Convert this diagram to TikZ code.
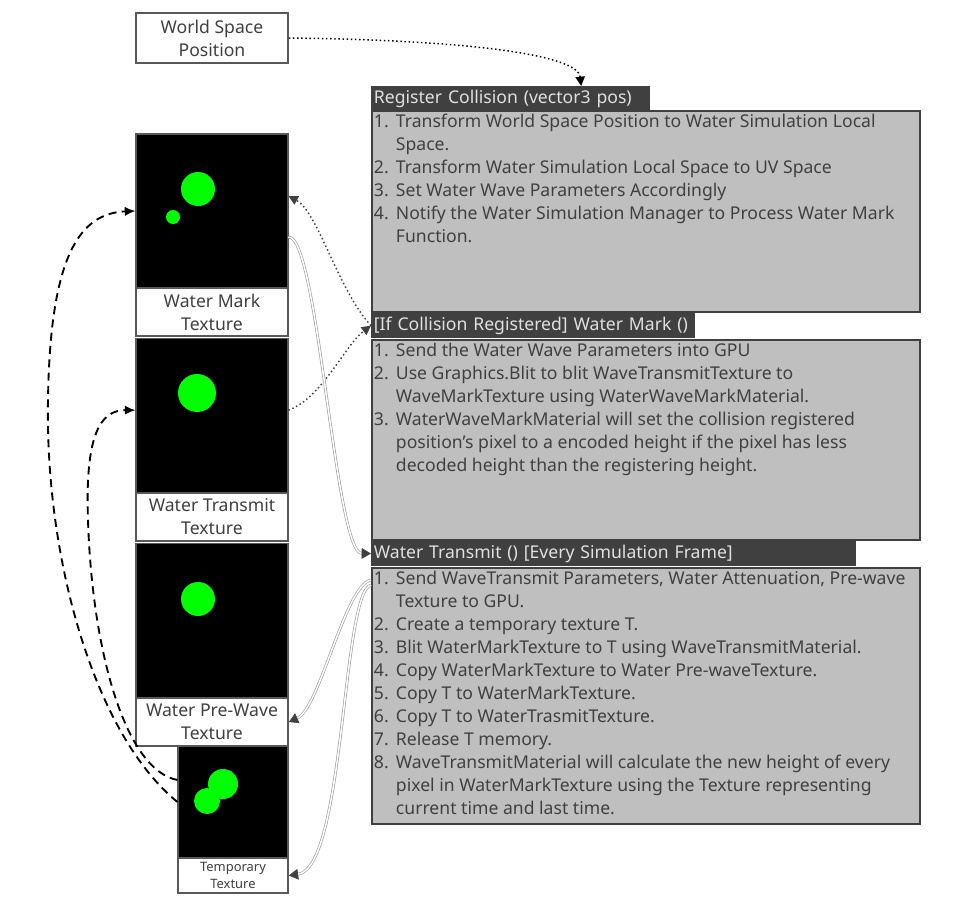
\documentclass[tikz,border=0pt]{standalone}
\usepackage{fontspec}
\setmainfont{Noto Sans}
\usetikzlibrary{arrows.meta}

\definecolor{headgray}{HTML}{404040}
\definecolor{bodygray}{HTML}{BFBFBF}
\definecolor{framegray}{HTML}{595959}
\definecolor{textgray}{HTML}{404040}
\definecolor{headtext}{HTML}{E0E0E0}
\definecolor{markgreen}{HTML}{00FF00}
\definecolor{linkgray}{HTML}{A0A0A0}

\newcommand{\litem}[2]{\makebox[16.5pt][l]{#1}#2}
\newcommand{\mainfontsize}{\fontsize{13.2}{17.25}\selectfont}

\tikzset{
    labelbox/.style={draw=framegray, line width=1.2pt, fill=white, text=textgray,
        minimum width=114pt, minimum height=36pt, align=center, inner sep=0pt,
        font=\mainfontsize},
    texbox/.style={draw=framegray, line width=0.8pt, fill=black,
        minimum width=114pt, minimum height=115.5pt, inner sep=0pt},
    headbox/.style={fill=headgray, text=headtext, anchor=north west, align=left,
        minimum height=18.5pt, inner sep=2pt, font=\mainfontsize},
    bodybox/.style={draw=headgray, line width=1.5pt, fill=bodygray, anchor=north west,
        minimum width=411pt, inner sep=0pt},
    listtext/.style={anchor=north west, align=left, text=textgray, inner sep=2pt,
        font=\mainfontsize},
    markdot/.style={fill=markgreen},
    posflow/.style={dotted, line width=1.1pt, -{Triangle[length=7pt,width=7pt]}},
    markflow/.style={dotted, line width=1.1pt, draw=headgray,
        -{Triangle[length=7pt,width=7pt,color=headgray]}},
    copyflow/.style={draw=linkgray, double=white, double distance=1.1pt, line width=0.5pt,
        -{Triangle[length=7pt,width=8pt,color=headgray,fill=headgray]}},
    swapflow/.style={dashed, dash pattern=on 6pt off 4pt, line width=1.4pt,
        -{Latex[length=8pt,width=7pt]}},
}

\begin{document}
\begin{tikzpicture}[x=0.75pt, y=-0.75pt]
    \useasboundingbox (0,0) rectangle (957,904);

    % textures on the left
    \node[labelbox, minimum height=37.5pt] (wsp) at (212,38) {World Space\\Position};

    \node[texbox] (wmtex) at (212,211) {};
    \node[labelbox] (wmlabel) at (212,312) {Water Mark\\Texture};
    \node[texbox] (wttex) at (212,415.5) {};
    \node[labelbox] (wtlabel) at (212,517) {Water Transmit\\Texture};
    \node[texbox] (pwtex) at (212,620.5) {};
    \node[labelbox] (pwlabel) at (212,722) {Water Pre-Wave\\Texture};
    \node[texbox, minimum width=82.5pt, minimum height=84pt] (tmptex) at (233,802) {};
    \node[labelbox, minimum width=82.5pt, minimum height=26.25pt,
        font=\fontsize{9.7}{12.5}\selectfont] (tmplabel) at (233,875.5) {Temporary\\Texture};

    \fill[markgreen] (198,189) circle[radius=17];
    \fill[markgreen] (173,217) circle[radius=7];
    \fill[markgreen] (197,393) circle[radius=19];
    \fill[markgreen] (198,599) circle[radius=17];
    \fill[markgreen] (223,784) circle[radius=15];
    \fill[markgreen] (207,801) circle[radius=13];

    % function blocks on the right
    \node[bodybox, minimum height=150.75pt] (rcbody) at (371,110) {};
    \node[headbox, text width=205pt] (rchead) at (371,86) {Register Collision (vector3 pos)};
    \node[listtext] (rclist) at (371,111) {%
        \litem{1.}{Transform World Space Position to Water Simulation Local}\\
        \litem{}{Space.}\\
        \litem{2.}{Transform Water Simulation Local Space to UV Space}\\
        \litem{3.}{Set Water Wave Parameters Accordingly}\\
        \litem{4.}{Notify the Water Simulation Manager to Process Water Mark}\\
        \litem{}{Function.}};

    \node[bodybox, minimum height=150pt] (wmbody) at (371,339) {};
    \node[headbox, text width=239pt] (wmhead) at (371,313) {[If Collision Registered] Water Mark ()};
    \node[listtext] (wmlist) at (371,340) {%
        \litem{1.}{Send the Water Wave Parameters into GPU}\\
        \litem{2.}{Use Graphics.Blit to blit WaveTransmitTexture to}\\
        \litem{}{WaveMarkTexture using WaterWaveMarkMaterial.}\\
        \litem{3.}{WaterWaveMarkMaterial will set the collision registered}\\
        \litem{}{position's pixel to a encoded height if the pixel has less}\\
        \litem{}{decoded height than the registering height.}};

    \node[bodybox, minimum height=192pt] (wtbody) at (371,567) {};
    \node[headbox, text width=359.75pt] (wthead) at (371,541) {Water Transmit () [Every Simulation Frame]};
    \node[listtext] (wtlist) at (371,568) {%
        \litem{1.}{Send WaveTransmit Parameters, Water Attenuation, Pre-wave}\\
        \litem{}{Texture to GPU.}\\
        \litem{2.}{Create a temporary texture T.}\\
        \litem{3.}{Blit WaterMarkTexture to T using WaveTransmitMaterial.}\\
        \litem{4.}{Copy WaterMarkTexture to Water Pre-waveTexture.}\\
        \litem{5.}{Copy T to WaterMarkTexture.}\\
        \litem{6.}{Copy T to WaterTrasmitTexture.}\\
        \litem{7.}{Release T memory.}\\
        \litem{8.}{WaveTransmitMaterial will calculate the new height of every}\\
        \litem{}{pixel in WaterMarkTexture using the Texture representing}\\
        \litem{}{current time and last time.}};

    % connectors
    \draw[posflow] (wsp.east) .. controls (470,40) and (578,55) .. ([xshift=52.9pt]rchead.north);

    \draw[markflow] ([yshift=4pt]wttex.east) .. controls (322,398) and (345,345) .. (wmhead.west);
    \draw[markflow] (wmhead.west) .. controls (338,290) and (318,212) .. ([yshift=11.25pt]wmtex.east);

    \draw[copyflow] ([yshift=-19.5pt]wmtex.east) .. controls (318,235) and (335,553) .. (wthead.west);
    \draw[copyflow] ([yshift=-9.75pt]wtbody.north west) .. controls (345,585) and (320,708) .. (pwlabel.east);
    \draw[copyflow] ([yshift=-13.5pt]wtbody.north west) .. controls (342,592) and (345,868) .. (tmplabel.east);

    \draw[swapflow] (tmptex.west) .. controls (95,735) and (45,560) .. (48,400)
        .. controls (50,255) and (80,213) .. (wmtex.west);
    \draw[swapflow] ([yshift=16.5pt]tmptex.west) .. controls (125,770) and (92,650) .. (88,520)
        .. controls (85,435) and (100,410) .. ([yshift=4pt]wttex.west);
\end{tikzpicture}
\end{document}
